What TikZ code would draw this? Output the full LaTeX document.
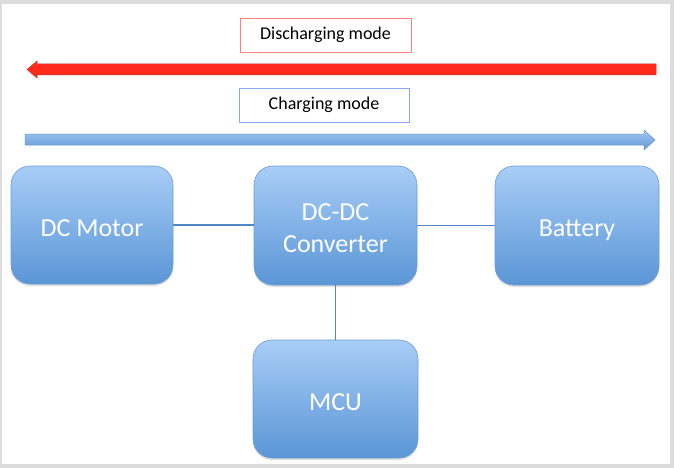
\documentclass[tikz,border=0pt]{standalone}
\usepackage{fontspec}
\newfontfamily\carlito{Carlito}
\usetikzlibrary{shadows}
\definecolor{blktop}{HTML}{A9CDF7}
\definecolor{blkbot}{HTML}{5A96D6}
\definecolor{blkborder}{HTML}{6E9DD6}
\definecolor{wire}{HTML}{5086C4}
\definecolor{redarrow}{HTML}{FF2A1A}
\definecolor{redline}{HTML}{C03A30}
\definecolor{bluetop}{HTML}{A6C8F2}
\definecolor{bluebot}{HTML}{5E97D6}
\definecolor{blueline}{HTML}{6A95C8}
\definecolor{redbox}{HTML}{FF7F7F}
\definecolor{bluebox}{HTML}{8AA8F2}
\definecolor{frame}{HTML}{DCDCDC}
\newcommand{\blklbl}[1]{\raisebox{-5pt}[\height][\depth]{\begin{tabular}{@{}c@{}}#1\end{tabular}}}
\tikzset{
  blk/.style={rounded corners=19pt, draw=blkborder, line width=0.6pt,
    top color=blktop, bottom color=blkbot, text=white,
    font=\carlito\fontsize{26}{32}\selectfont, inner sep=0pt,
    drop shadow={opacity=0.25, shadow xshift=0pt, shadow yshift=-2pt}},
  modebox/.style={draw, fill=white, line width=0.6pt, inner sep=0pt,
    font=\carlito\fontsize{18}{21}\selectfont, text=black},
  wireline/.style={draw=wire, line width=1.8pt}
}
\begin{document}
\begin{tikzpicture}[x=1pt,y=-1pt]
\useasboundingbox (0,0) rectangle (674,468);
\fill[frame] (0,0) rectangle (674,468);
\fill[white] (2,4) rectangle (670,464);
% red arrow (discharging)
\filldraw[fill=redarrow, draw=redline, line width=0.5pt]
  (656,64) -- (37,64) -- (37,61) -- (27,69.5) -- (37,78) -- (37,75) -- (656,75) -- cycle;
% blue arrow (charging)
\shade[top color=bluetop, bottom color=bluebot]
  (25,134) -- (644,134) -- (644,130) -- (655,140) -- (644,150) -- (644,145) -- (25,145) -- cycle;
\draw[blueline, line width=0.5pt]
  (25,134) -- (644,134) -- (644,130) -- (655,140) -- (644,150) -- (644,145) -- (25,145) -- cycle;
% mode labels
\node[modebox, draw=redbox, minimum width=171pt, minimum height=34pt] (dis) at (325.5,35) {Discharging mode};
\node[modebox, draw=bluebox, minimum width=170pt, minimum height=34pt] (chg) at (324,105) {Charging mode};
% blocks
\node[blk, minimum width=162pt, minimum height=118pt] (motor) at (92,225) {\blklbl{DC Motor}};
\node[blk, minimum width=163pt, minimum height=119pt] (conv) at (335.5,225.5) {\blklbl{DC-DC\\Converter}};
\node[blk, minimum width=164pt, minimum height=119pt] (bat) at (577,225.5) {\blklbl{Battery}};
\node[blk, minimum width=165pt, minimum height=118pt] (mcu) at (335.5,399) {\blklbl{MCU}};
% connectors
\draw[wireline] (motor.east) -- (motor.east -| conv.west);
\draw[wireline] (conv.east) -- (conv.east -| bat.west);
\draw[wireline] (conv.south) -- (mcu.north);
\end{tikzpicture}
\end{document}
